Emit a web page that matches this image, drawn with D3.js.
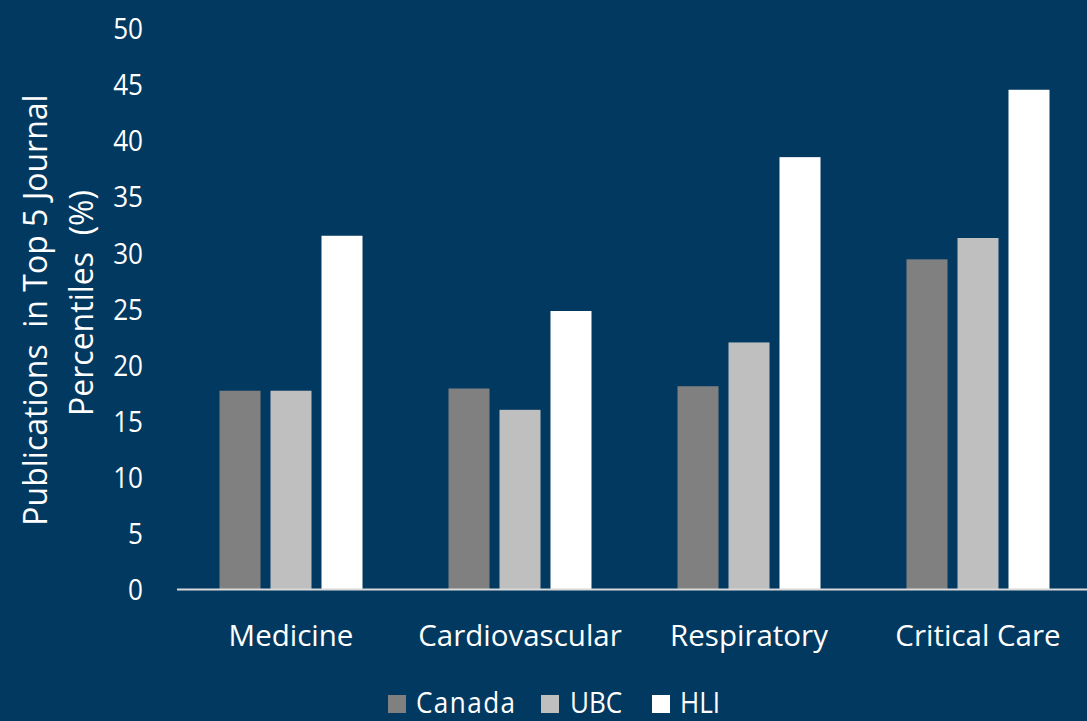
<!DOCTYPE html>
<html>
<head>
<meta charset="utf-8">
<script src="https://cdn.jsdelivr.net/npm/d3@7"></script>
<style>
  html, body { margin: 0; padding: 0; background: #023960; }
  svg { display: block; }
  text { font-family: "Open Sans", "Noto Sans", sans-serif; fill: #ffffff; white-space: pre; }
</style>
</head>
<body>
<svg id="chart" width="1087" height="721"></svg>
<script>
// Share of publications in the top 5 journal percentiles, by field
const categories = ["Medicine", "Cardiovascular", "Respiratory", "Critical Care"];
const seriesNames = ["Canada", "UBC", "HLI"];
const canada = [17.7, 17.9, 18.1, 29.4];
const ubc = [17.7, 16.0, 22.0, 31.3];
const hli = [31.5, 24.8, 38.5, 44.5];
const yTicks = [0, 5, 10, 15, 20, 25, 30, 35, 40, 45, 50];
const yTitleLines = ["Publications  in Top 5 Journal", "Percentiles  (%)"];

const seriesValues = { Canada: canada, UBC: ubc, HLI: hli };
const colors = { Canada: "#808080", UBC: "#bfbfbf", HLI: "#ffffff" };

const rows = categories.map((c, i) => ({
  category: c,
  values: seriesNames.map(s => ({ series: s, value: seriesValues[s][i] }))
}));

const svg = d3.select("#chart");
const W = 1087, H = 721;

svg.append("rect").attr("width", W).attr("height", H).attr("fill", "#023960");

const x0 = d3.scaleBand().domain(categories).range([176.5, 1092.5]).padding(0);
const groupWidth = 143;
const x1 = d3.scaleBand().domain(seriesNames)
  .range([(x0.bandwidth() - groupWidth) / 2, (x0.bandwidth() + groupWidth) / 2])
  .paddingInner(0.196).paddingOuter(0);
const y = d3.scaleLinear().domain([0, 50]).range([589.5, 28]);

// Horizontal squeeze applied to tick and legend labels
const sx = 0.9;

// Bars
const groups = svg.append("g").selectAll("g").data(rows).join("g")
  .attr("transform", d => `translate(${x0(d.category)},0)`);
groups.selectAll("rect").data(d => d.values).join("rect")
  .attr("x", d => x1(d.series))
  .attr("width", x1.bandwidth())
  .attr("y", d => y(d.value))
  .attr("height", d => y(0) - y(d.value))
  .attr("fill", d => colors[d.series]);

// Baseline
svg.append("line")
  .attr("x1", 177).attr("x2", W)
  .attr("y1", y(0)).attr("y2", y(0))
  .attr("stroke", "#d9d9d9").attr("stroke-width", 2);

// Y tick labels
const yAxis = d3.axisLeft(y).tickValues(yTicks).tickSize(0).tickPadding(0);
const yg = svg.append("g").attr("transform", "translate(143,0)").call(yAxis);
yg.select(".domain").remove();
yg.selectAll("text")
  .attr("x", 0).attr("dy", "0.36em")
  .attr("font-size", 29).attr("fill", "#fff")
  .attr("font-family", "Open Sans, Noto Sans, sans-serif")
  .attr("transform", `scale(${sx},1)`)
  .attr("text-anchor", "end");

// Category labels
const xAxis = d3.axisBottom(x0).tickSize(0).tickPadding(0);
const xg = svg.append("g").attr("transform", "translate(0,646)").call(xAxis);
xg.select(".domain").remove();
xg.selectAll(".tick text")
  .attr("y", 0).attr("dy", 0).attr("x", 0)
  .attr("font-size", 29.5).attr("fill", "#fff")
  .attr("font-family", "Open Sans, Noto Sans, sans-serif");

// Y axis title (two lines, rotated)
const titleCenters = [[47, 310], [93, 303]];
yTitleLines.forEach((line, i) => {
  svg.append("text")
    .attr("transform", `translate(${titleCenters[i][0]},${titleCenters[i][1]}) rotate(-90)`)
    .attr("text-anchor", "middle")
    .attr("font-size", 32)
    .text(line);
});

// Legend
const legendItems = [
  { name: "Canada", sq: 388, tx: 416 },
  { name: "UBC", sq: 541, tx: 570 },
  { name: "HLI", sq: 652, tx: 680 }
];
const lg = svg.append("g");
legendItems.forEach(it => {
  lg.append("rect").attr("x", it.sq).attr("y", 695).attr("width", 18).attr("height", 18)
    .attr("fill", colors[it.name]);
  lg.append("text")
    .attr("transform", `translate(${it.tx},713) scale(${sx},1)`)
    .attr("font-size", 29)
    .attr("letter-spacing", it.name === "Canada" ? 1.6 : 0)
    .text(it.name);
});
</script>
</body>
</html>
